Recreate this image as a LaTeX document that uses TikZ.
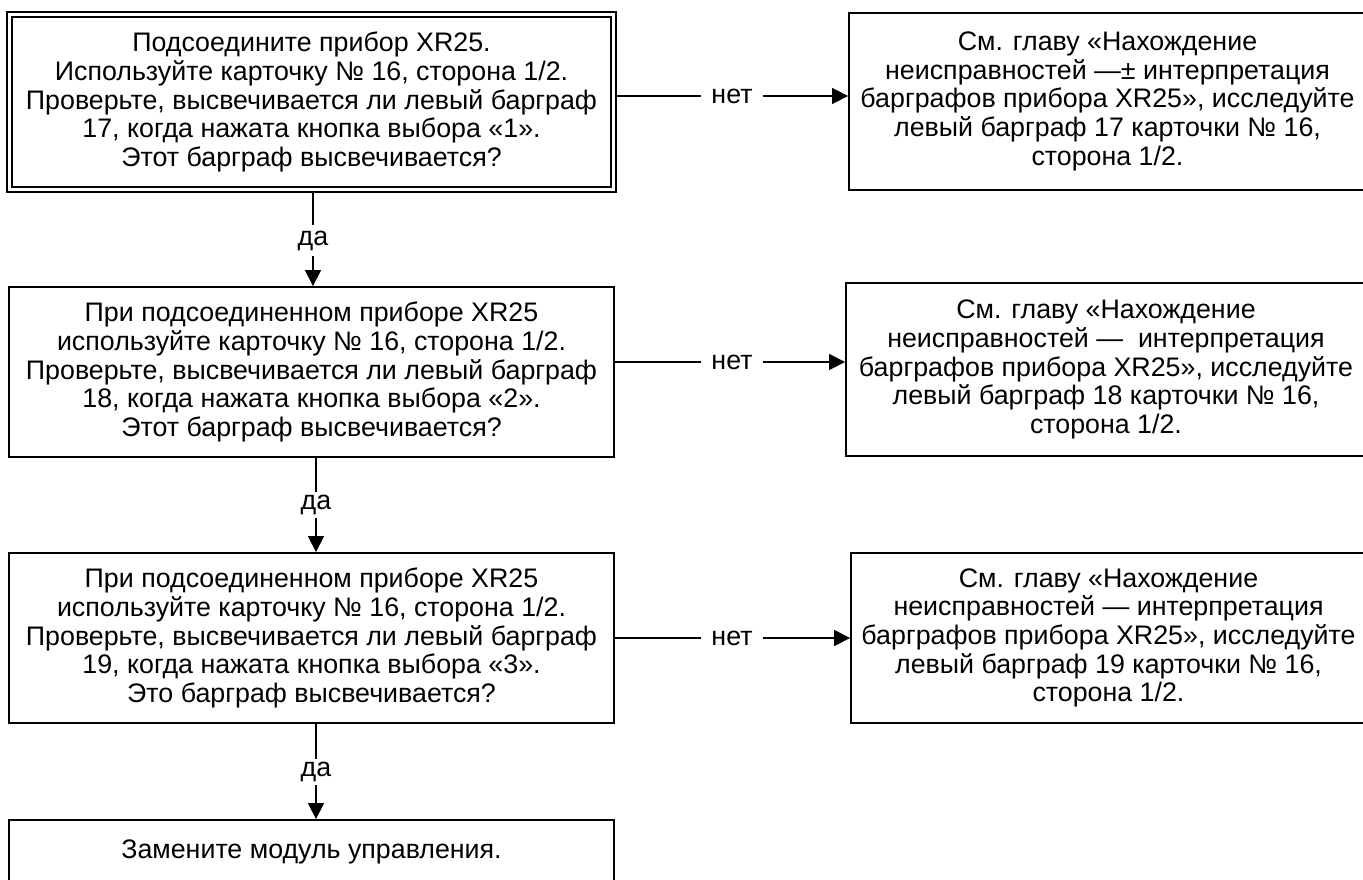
\documentclass[tikz,border=0pt]{standalone}
\usepackage{fontspec}
\setmainfont{Liberation Sans}
\usetikzlibrary{arrows.meta}
\newcommand\boxfont{\fontsize{26.8pt}{28.6pt}\selectfont}
\begin{document}
\begin{tikzpicture}[x=1pt,y=-1pt,
  box/.style={draw, line width=1.8pt, align=center, inner sep=0pt, font=\boxfont},
  dbox/.style={draw, line width=1.6pt, double, double distance=3.2pt, outer sep=3.2pt, align=center, inner sep=0pt, font=\boxfont},
  lab/.style={inner xsep=10pt, inner ysep=0pt, font=\boxfont},
  conn/.style={line width=1.3pt},
  arr/.style={line width=1.3pt, -{Triangle[length=16pt,width=16pt]}}]
\useasboundingbox (0,0) rectangle (1363,880);

\node[dbox, minimum width=604pt, minimum height=175.3pt] (b1) at (311.5,102)
  {Подсоедините прибор XR25.\\Используйте карточку № 16, сторона 1/2.\\Проверьте, высвечивается ли левый барграф\\17, когда нажата кнопка выбора «1».\\Этот барграф высвечивается?};
\node[box, minimum width=605pt, minimum height=170pt] (b2) at (311.5,372)
  {При подсоединенном приборе XR25\\используйте карточку № 16, сторона 1/2.\\Проверьте, высвечивается ли левый барграф\\18, когда нажата кнопка выбора «2».\\Этот барграф высвечивается?};
\node[box, minimum width=605pt, minimum height=170pt] (b3) at (311.5,638)
  {При подсоединенном приборе XR25\\используйте карточку № 16, сторона 1/2.\\Проверьте, высвечивается ли левый барграф\\19, когда нажата кнопка выбора «3».\\Это барграф высвечивается?};
\node[box, minimum width=605pt, minimum height=64pt] (b4) at (311.5,852)
  {Замените модуль управления.};

\node[box, minimum width=517pt, minimum height=177.3pt] (r1) at (1107.5,101.35)
  {См. главу «Нахождение\\неисправностей —± интерпретация\\барграфов прибора XR25», исследуйте\\левый барграф 17 карточки № 16,\\сторона 1/2.};
\node[box, minimum width=520pt, minimum height=173pt] (r2) at (1106,369.5)
  {См. главу «Нахождение\\неисправностей —\ \ интерпретация\\барграфов прибора XR25», исследуйте\\левый барграф 18 карточки № 16,\\сторона 1/2.};
\node[box, minimum width=515pt, minimum height=170pt] (r3) at (1108.5,638)
  {См. главу «Нахождение\\неисправностей — интерпретация\\барграфов прибора XR25», исследуйте\\левый барграф 19 карточки № 16,\\сторона 1/2.};

\node[lab, minimum height=31pt] (y1) at (313,240.5) {да};
\node[lab, minimum height=26pt] (y2) at (316,505) {да};
\node[lab, minimum height=26pt] (y3) at (316,772) {да};

\node[lab] (n1) at (732,96) {нет};
\node[lab] (n2) at (732,362) {нет};
\node[lab] (n3) at (732,638) {нет};

\draw[conn] (b1.south -| y1) -- (y1.north);
\draw[arr] (y1.south) -- (b2.north -| y1);
\draw[conn] (b2.south -| y2) -- (y2.north);
\draw[arr] (y2.south) -- (b3.north -| y2);
\draw[conn] (b3.south -| y3) -- (y3.north);
\draw[arr] (y3.south) -- (b4.north -| y3);

\draw[conn] (b1.east |- n1) -- (n1.west);
\draw[arr] (n1.east) -- (r1.west |- n1);
\draw[conn] (b2.east |- n2) -- (n2.west);
\draw[arr] (n2.east) -- (r2.west |- n2);
\draw[conn] (b3.east |- n3) -- (n3.west);
\draw[arr] (n3.east) -- (r3.west |- n3);
\end{tikzpicture}
\end{document}
